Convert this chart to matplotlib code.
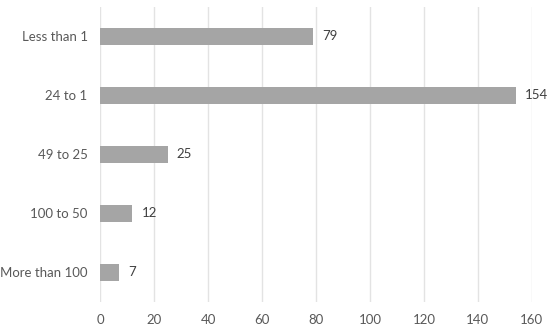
import matplotlib.pyplot as plt

categories = ["Less than 1", "24 to 1", "49 to 25", "100 to 50", "More than 100"]
values = [79, 154, 25, 12, 7]

plt.rcParams['font.family'] = ['Lato', 'DejaVu Sans']

fig = plt.figure(figsize=(5.5, 3.3), dpi=100)
ax = fig.add_axes([0.182, 0.085, 0.785, 0.894])

ypos = list(range(len(categories)))
ax.barh(ypos, values, height=0.3, color='#a5a5a5', zorder=2)
for y, v in zip(ypos, values):
    ax.text(v + 3.3, y, str(v), va='center', ha='left', fontsize=9.5, color='#404040')

ax.set_yticks(ypos)
ax.set_yticklabels(categories)
ax.set_ylim(4.5, -0.5)
ax.set_xlim(0, 160)
ax.set_xticks(range(0, 161, 20))
ax.grid(axis='x', color='#e3e3e3', linewidth=1, zorder=0)
for s in ax.spines.values():
    s.set_visible(False)
ax.tick_params(length=0, labelsize=9.5, colors='#595959')
ax.tick_params(axis='x', pad=9)
ax.tick_params(axis='y', pad=9)

plt.savefig('out.png', dpi=100)
